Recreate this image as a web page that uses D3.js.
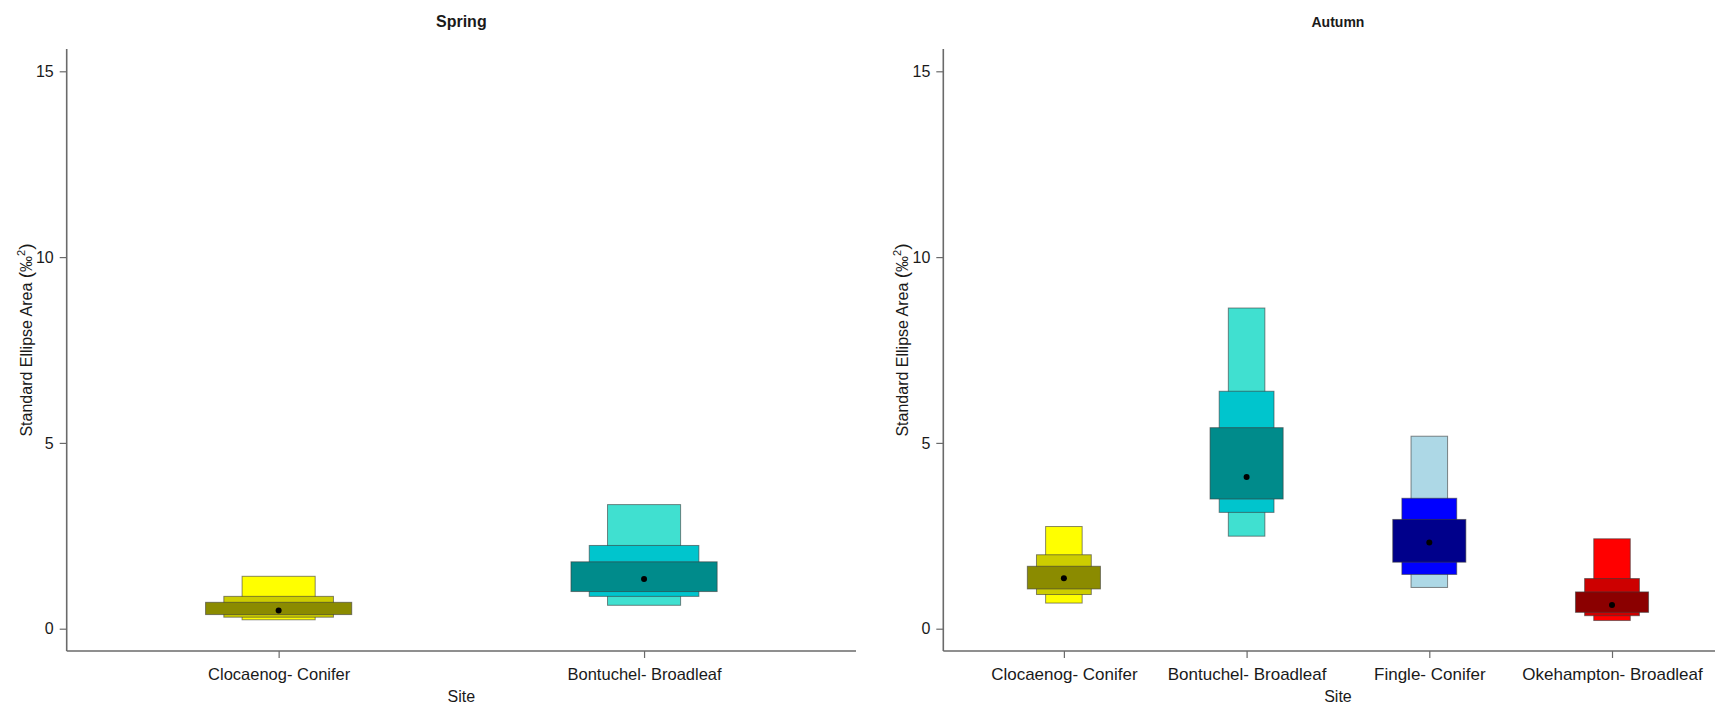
<!DOCTYPE html>
<html>
<head>
<meta charset="utf-8">
<script src="https://cdn.jsdelivr.net/npm/d3@7"></script>
<style>
  html, body { margin: 0; padding: 0; background: #fff; }
  svg { display: block; }
  text { font-family: "Liberation Sans", Arial, Helvetica, sans-serif; fill: #1a1a1a; }
</style>
</head>
<body>
<svg id="chart" width="1715" height="708"></svg>
<script>
// Standard ellipse area (SEA_B) posterior summaries per site:
// 95%, 75% and 50% credible intervals plus the mode.
const springSites = ["Clocaenog- Conifer", "Bontuchel- Broadleaf"];
const springCI95 = [[0.24, 1.41], [0.63, 3.34]];
const springCI75 = [[0.31, 0.87], [0.87, 2.24]];
const springCI50 = [[0.38, 0.71], [1.00, 1.80]];
const springMode = [0.49, 1.34];
const springColours = [
  ["#FFFF00", "#CDCD00", "#8B8B00"],
  ["#40E0D0", "#00C5CD", "#008B8B"]
];

const autumnSites = ["Clocaenog- Conifer", "Bontuchel- Broadleaf", "Fingle- Conifer", "Okehampton- Broadleaf"];
const autumnCI95 = [[0.69, 2.75], [2.49, 8.63], [1.11, 5.18], [0.22, 2.42]];
const autumnCI75 = [[0.92, 1.99], [3.13, 6.39], [1.46, 3.51], [0.35, 1.35]];
const autumnCI50 = [[1.07, 1.68], [3.49, 5.41], [1.79, 2.94], [0.44, 0.99]];
const autumnMode = [1.36, 4.08, 2.32, 0.64];
const autumnColours = [
  ["#FFFF00", "#CDCD00", "#8B8B00"],
  ["#40E0D0", "#00C5CD", "#008B8B"],
  ["#ADD8E6", "#0000FF", "#00008B"],
  ["#FF0000", "#CD0000", "#8B0000"]
];

const yTicks = [0, 5, 10, 15];
const yLimits = [0, 15];

const svg = d3.select("#chart");

// Base-R style panel: limits padded by 4% on each side, boxes 0.2/0.3/0.4 units wide.
function drawPanel(opts) {
  const { left, top, width, height, title, titleSize, sites, ci95, ci75, ci50, mode, colours, labelSize } = opts;
  const n = sites.length;
  const xLo = 0.5, xHi = n + 0.5, xPad = (xHi - xLo) * 0.04;
  const yPad = (yLimits[1] - yLimits[0]) * 0.04;

  const x = d3.scaleLinear().domain([xLo - xPad, xHi + xPad]).range([left, left + width]);
  const y = d3.scaleLinear().domain([yLimits[0] - yPad, yLimits[1] + yPad]).range([top + height, top]);

  const g = svg.append("g");

  const boxWidths = [0.2, 0.3, 0.4];
  const levels = [ci95, ci75, ci50];

  sites.forEach((s, i) => {
    const cx = i + 1;
    levels.forEach((lv, k) => {
      const [lo, hi] = lv[i];
      const w = boxWidths[k];
      g.append("rect")
        .attr("x", x(cx - w / 2))
        .attr("y", y(hi))
        .attr("width", x(cx + w / 2) - x(cx - w / 2))
        .attr("height", y(lo) - y(hi))
        .attr("fill", colours[i][k])
        .attr("stroke", "#3a3a3a")
        .attr("stroke-opacity", 0.6)
        .attr("stroke-width", 1);
    });
    g.append("circle")
      .attr("cx", x(cx))
      .attr("cy", y(mode[i]))
      .attr("r", 3)
      .attr("fill", "#000");
  });

  // y axis
  const yAxis = g.append("g").attr("transform", `translate(${left},0)`)
    .call(d3.axisLeft(y).tickValues(yTicks).tickSize(7).tickPadding(6).tickFormat(d3.format("d")));
  yAxis.select(".domain").attr("d", `M0,${top}V${top + height}`)
    .attr("stroke", "#6a6a6a").attr("stroke-width", 1.6);
  yAxis.selectAll(".tick line").attr("stroke", "#6a6a6a").attr("stroke-width", 1.2);
  yAxis.selectAll(".tick text")
    .attr("font-size", 16).style("font-size", "16px").attr("fill", "#1a1a1a")
    .style("font-family", "'Liberation Sans', Arial, sans-serif");

  // x axis
  const xAxis = g.append("g").attr("transform", `translate(0,${top + height})`)
    .call(d3.axisBottom(x).tickValues(d3.range(1, n + 1)).tickSize(7).tickPadding(10)
      .tickFormat((d) => sites[d - 1]));
  xAxis.select(".domain").attr("d", `M${left},0H${left + width}`)
    .attr("stroke", "#6a6a6a").attr("stroke-width", 1.6);
  xAxis.selectAll(".tick line").attr("stroke", "#6a6a6a").attr("stroke-width", 1.2);
  xAxis.selectAll(".tick text")
    .attr("font-size", labelSize).style("font-size", labelSize + "px").attr("fill", "#1a1a1a")
    .style("font-family", "'Liberation Sans', Arial, sans-serif");

  // titles
  g.append("text")
    .attr("x", left + width / 2)
    .attr("y", 27)
    .attr("text-anchor", "middle")
    .style("font-size", titleSize + "px")
    .style("font-weight", "bold")
    .text(title);

  g.append("text")
    .attr("x", left + width / 2)
    .attr("y", top + height + 51)
    .attr("text-anchor", "middle")
    .style("font-size", "16px")
    .text("Site");

  const yl = g.append("text")
    .attr("transform", `translate(${left - 35},${top + height / 2 - 10}) rotate(-90)`)
    .attr("text-anchor", "middle")
    .style("font-size", "16px");
  yl.append("tspan").text("Standard Ellipse Area ");
  yl.append("tspan").style("font-size", "19px").text("(");
  yl.append("tspan").text("‰");
  yl.append("tspan").attr("dy", -7).style("font-size", "11px").text("2");
  yl.append("tspan").attr("dy", 7).style("font-size", "19px").text(")");
}

drawPanel({
  left: 66.7, top: 49, width: 789.3, height: 602,
  title: "Spring", titleSize: 16,
  sites: springSites, ci95: springCI95, ci75: springCI75, ci50: springCI50,
  mode: springMode, colours: springColours, labelSize: 16.5
});

drawPanel({
  left: 943.3, top: 49, width: 789.3, height: 602,
  title: "Autumn", titleSize: 14,
  sites: autumnSites, ci95: autumnCI95, ci75: autumnCI75, ci50: autumnCI50,
  mode: autumnMode, colours: autumnColours, labelSize: 17
});
</script>
</body>
</html>
